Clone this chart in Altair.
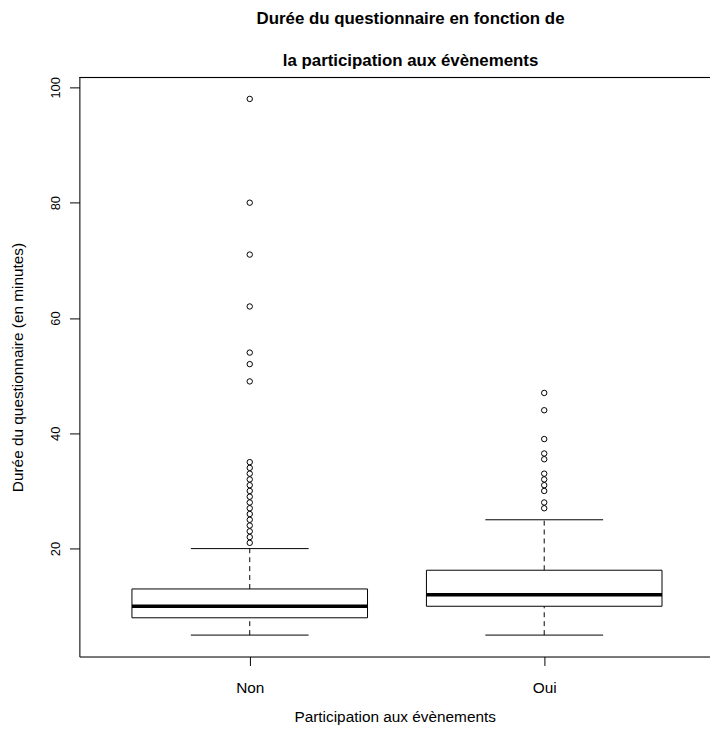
import json
import altair as alt
import pandas as pd

# ---- data ----
groups = ["Non", "Oui"]
lower_whisker = [5, 5]
q1 = [8, 10]
median = [10, 12]
q3 = [13, 16.25]
upper_whisker = [20, 25]

outliers_non = [21, 22, 23, 24, 25, 26, 27, 28, 29, 30, 31, 32, 33, 34, 35,
                49, 52, 54, 62, 71, 80, 98]
outliers_oui = [27, 28, 30, 31, 32, 33, 35.5, 36.5, 39, 44, 47]

y_ticks = [20, 40, 60, 80, 100]
y_domain = [1.28, 101.72]
x_domain = [0.4215, 2.563]

title_lines = ["Durée du questionnaire en fonction de", "la participation aux évènements"]
x_title = "Participation aux évènements"
y_title = "Durée du questionnaire (en minutes)"

# ---- tables ----
box_df = pd.DataFrame({
    "group": groups,
    "pos": list(range(1, len(groups) + 1)),
    "lw": lower_whisker,
    "q1": q1,
    "med": median,
    "q3": q3,
    "uw": upper_whisker,
})
out_rows = []
for g, vals in zip(groups, [outliers_non, outliers_oui]):
    for v in vals:
        out_rows.append({"group": g, "pos": groups.index(g) + 1, "value": v})
out_df = pd.DataFrame(out_rows)

W, H = 636, 584
FONT = "Liberation Sans"

xscale = alt.Scale(domain=x_domain, nice=False, zero=False)
yscale = alt.Scale(domain=y_domain, nice=False, zero=False)

xaxis = alt.Axis(
    values=list(range(1, len(groups) + 1)),
    labelExpr=f"{json.dumps(groups)}[datum.value - 1]",
    title=x_title, tickSize=9, labelPadding=15, titlePadding=14,
    domainColor="black", tickColor="black", labelColor="black", titleColor="black",
    labelFontSize=15.5, titleFontSize=15.5, titleFontWeight="normal",
    labelFont=FONT, titleFont=FONT, grid=False, domainWidth=1, tickWidth=1,
)
yaxis = alt.Axis(
    values=y_ticks, title=y_title, tickSize=10, labelPadding=7,
    labelAngle=270, labelAlign="center", labelBaseline="bottom",
    titleAngle=270, titleAlign="center", titleBaseline="bottom",
    titleX=-54, titleY=H / 2,
    domainColor="black", tickColor="black", labelColor="black", titleColor="black",
    labelFontSize=13, titleFontSize=15.5, titleFontWeight="normal",
    labelFont=FONT, titleFont=FONT, grid=False, domainWidth=1, tickWidth=1,
)

def X(f):
    return alt.X(f, type="quantitative", scale=xscale, axis=xaxis)

def Y(f):
    return alt.Y(f, type="quantitative", scale=yscale, axis=yaxis)

base = alt.Chart(box_df).transform_calculate(
    xl="datum.pos - 0.4", xr="datum.pos + 0.4",
    cl="datum.pos - 0.2", cr="datum.pos + 0.2",
)

whisk_up = base.mark_rule(color="black", strokeWidth=1, strokeDash=[5, 4]).encode(
    x=X("pos"), y=Y("q3"), y2="uw")
whisk_lo = base.mark_rule(color="black", strokeWidth=1, strokeDash=[5, 4]).encode(
    x=X("pos"), y=Y("lw"), y2="q1")
cap_up = base.mark_rule(color="black", strokeWidth=1).encode(
    x=X("cl"), x2="cr", y=Y("uw"))
cap_lo = base.mark_rule(color="black", strokeWidth=1).encode(
    x=X("cl"), x2="cr", y=Y("lw"))
boxes = base.mark_rect(fill="white", stroke="black", strokeWidth=1).encode(
    x=X("xl"), x2="xr", y=Y("q1"), y2="q3")
med = base.mark_rule(color="black", strokeWidth=3.5).encode(
    x=X("xl"), x2="xr", y=Y("med"))
pts = alt.Chart(out_df).mark_point(
    shape="circle", filled=False, color="black", size=30, strokeWidth=1, opacity=1
).encode(x=X("pos"), y=Y("value"))
top = alt.Chart(box_df).mark_rule(color="black", strokeWidth=1).encode(
    x=alt.value(0), x2=alt.value(W), y=alt.value(0))

chart = alt.layer(whisk_up, whisk_lo, cap_up, cap_lo, boxes, med, pts, top).properties(
    width=W, height=H,
    title=alt.TitleParams(
        text=title_lines, fontSize=17, fontWeight="bold", font=FONT, color="black",
        anchor="middle", frame="group", lineHeight=42, baseline="bottom", offset=-10,
        dx=16,
    ),
    autosize=alt.AutoSizeParams(type="none"),
    padding={"left": 72, "top": 67, "right": 0, "bottom": 67},
).configure_view(stroke=None).configure(background="white")

chart.save("out.html", embed_options={"renderer": "svg", "actions": False})
